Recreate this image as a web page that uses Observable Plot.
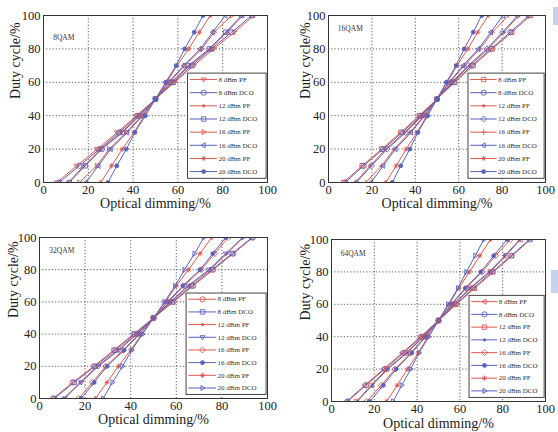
<!DOCTYPE html>
<html><head><meta charset="utf-8">
<script src="https://cdn.jsdelivr.net/npm/d3@7"></script>
<script src="https://cdn.jsdelivr.net/npm/@observablehq/plot@0.6"></script>
<style>
html,body{margin:0;padding:0;background:#fff;}
body{width:558px;height:432px;position:relative;overflow:hidden;font-family:"Liberation Serif",serif;}
.panel{position:absolute;}
.deco{position:absolute;background:#c4d2ee;}
</style></head><body>
<div id="p0" class="panel" style="left:0;top:0"></div>
<div id="p1" class="panel" style="left:279px;top:0"></div>
<div id="p2" class="panel" style="left:0;top:216px"></div>
<div id="p3" class="panel" style="left:279px;top:216px"></div>
<div class="deco" style="left:553px;top:7px;width:5px;height:18px"></div>
<div class="deco" style="left:551px;top:270px;width:7px;height:23px"></div>
<script>
// Duty cycle levels (y values)
const duty = [0, 10, 20, 30, 40, 50, 60, 70, 80, 90, 100];
const seriesNames = ["8 dBm PF", "8 dBm DCO", "12 dBm PF", "12 dBm DCO", "16 dBm PF", "16 dBm DCO", "20 dBm PF", "20 dBm DCO"];
const panelTitles = ["8QAM", "16QAM", "32QAM", "64QAM"];
const xTicks = [0, 20, 40, 60, 80, 100];
const yTicks = [0, 20, 40, 60, 80, 100];

// Optical dimming (%) per series, in seriesNames order, at each duty level
const dim8QAM = [
  [6, 14.8, 24, 32.9, 41.5, 50, 58.5, 67.1, 76, 85.2, 94],
  [7, 16, 25, 33.8, 42, 50, 58, 66.2, 75, 84, 93],
  [11, 18.1, 25.5, 34.8, 42.5, 50, 57.5, 65.2, 74.5, 81.9, 89],
  [11.5, 18.6, 26, 35.3, 43, 50, 57, 64.7, 74, 81.4, 88.5],
  [16, 23.8, 29.3, 37, 43.8, 50, 56.2, 63, 70.7, 76.2, 84],
  [18.9, 24.5, 30, 37.4, 44.2, 50, 55.8, 62.6, 70, 75.5, 81.1],
  [25.5, 30.4, 35.2, 40.4, 45, 50, 55, 59.6, 64.8, 69.6, 74.5],
  [28.8, 32.7, 37, 40.8, 45.5, 50, 54.5, 59.2, 63, 67.3, 71.2]
];
const dim16QAM = [
  [6.9, 15.5, 24.5, 33.3, 41.8, 50, 58.2, 66.7, 75.5, 84.5, 93.1],
  [7.7, 16.2, 25.2, 34, 42.3, 50, 57.7, 66, 74.8, 83.8, 92.3],
  [12.3, 19.2, 26.4, 35, 42.8, 50, 57.2, 65, 73.6, 80.8, 87.7],
  [12.8, 19.8, 27, 35.6, 43.2, 50, 56.8, 64.4, 73, 80.2, 87.2],
  [17.2, 24.4, 30.2, 37.5, 44, 50, 56, 62.5, 69.8, 75.6, 82.8],
  [19.6, 25.2, 30.9, 38, 44.4, 50, 55.6, 62, 69.1, 74.8, 80.4],
  [26.4, 31.2, 35.8, 40.8, 45.3, 50, 54.7, 59.2, 64.2, 68.8, 73.6],
  [29.4, 33.3, 37.5, 41.2, 45.7, 50, 54.3, 58.8, 62.5, 66.7, 70.6]
];
const dim32QAM = [
  [6, 14.5, 23.8, 32.6, 41.2, 50, 58.8, 67.4, 76.2, 85, 93.6],
  [6.5, 15.2, 24.4, 33.2, 41.7, 50, 58.3, 66.8, 75.6, 84.5, 93.2],
  [10.6, 17.8, 25.2, 34.3, 42.3, 50, 57.7, 65.7, 74.8, 82.2, 89.4],
  [11, 18.3, 25.8, 34.8, 42.7, 50, 57.3, 65.2, 74.2, 81.7, 89],
  [17.2, 23.2, 29, 36.7, 43.5, 50, 56.5, 63.3, 71, 76.8, 82.8],
  [18.3, 24, 29.6, 37.1, 43.9, 50, 56.1, 62.9, 70.4, 76, 81.7],
  [24.5, 29.6, 34.6, 40, 44.8, 50, 55.2, 60, 65.4, 70.4, 75.5],
  [27.9, 32, 36.4, 40.5, 45.2, 50, 54.8, 59.5, 63.6, 68, 72.1]
];
const dim64QAM = [
  [7, 15.5, 24.3, 33, 41.6, 50, 58.4, 67, 75.7, 84.5, 93],
  [7.5, 16, 24.9, 33.6, 42, 50, 58, 66.4, 75.1, 84, 92.5],
  [11.7, 18.5, 25.8, 34.9, 42.6, 50, 57.4, 65.1, 74.2, 81.5, 88.3],
  [12, 19, 26.3, 35.3, 43, 50, 57, 64.7, 73.7, 81, 88],
  [16.4, 23.3, 29.6, 37, 43.7, 50, 56.3, 63, 70.4, 76.7, 83.6],
  [17.9, 24.2, 30.2, 37.5, 44.1, 50, 55.9, 62.5, 69.8, 75.8, 82.1],
  [25.7, 30.7, 35.5, 40.5, 45.1, 50, 54.9, 59.5, 64.5, 69.3, 74.3],
  [28.8, 32.8, 37, 40.9, 45.5, 50, 54.5, 59.1, 63, 67.2, 71.2]
];
const panelData = [dim8QAM, dim16QAM, dim32QAM, dim64QAM];

// Marker per series, per panel
const panelMarkers = [
  ["down", "circle", "point", "square", "right", "left", "asterisk", "filled"],
  ["square", "circle", "point", "diamond", "plus", "left", "asterisk", "filled"],
  ["circle", "square", "point", "down", "diamond", "filled", "asterisk", "right"],
  ["left", "circle", "square", "point", "diamond", "filled", "asterisk", "right"]
];

const RED = "#dd5a50", BLUE = "#5a62bd";
const seriesColor = i => (i % 2 === 0 ? RED : BLUE);

const S = f => ({draw(c, size) { const r = Math.sqrt(size / Math.PI); f(c, r); }});
const symbols = {
  circle: S((c, r) => { c.moveTo(r, 0); c.arc(0, 0, r, 0, 2 * Math.PI); }),
  filled: S((c, r) => { const p = r * 0.75; c.moveTo(p, 0); c.arc(0, 0, p, 0, 2 * Math.PI); }),
  point: S((c, r) => { const p = r * 0.45; c.moveTo(p, 0); c.arc(0, 0, p, 0, 2 * Math.PI); }),
  square: S((c, r) => { const s = r * 0.85; c.rect(-s, -s, 2 * s, 2 * s); }),
  diamond: S((c, r) => { const s = r * 1.15; c.moveTo(0, -s); c.lineTo(s, 0); c.lineTo(0, s); c.lineTo(-s, 0); c.closePath(); }),
  down: S((c, r) => { c.moveTo(-r, -r * 0.6); c.lineTo(r, -r * 0.6); c.lineTo(0, r); c.closePath(); }),
  left: S((c, r) => { c.moveTo(r * 0.6, -r); c.lineTo(r * 0.6, r); c.lineTo(-r, 0); c.closePath(); }),
  right: S((c, r) => { c.moveTo(-r * 0.6, -r); c.lineTo(-r * 0.6, r); c.lineTo(r, 0); c.closePath(); }),
  plus: S((c, r) => { c.moveTo(-r, 0); c.lineTo(r, 0); c.moveTo(0, -r); c.lineTo(0, r); }),
  asterisk: S((c, r) => {
    c.moveTo(-r, 0); c.lineTo(r, 0); c.moveTo(0, -r); c.lineTo(0, r);
    const d = r * 0.7; c.moveTo(-d, -d); c.lineTo(d, d); c.moveTo(-d, d); c.lineTo(d, -d);
  })
};
const filledSet = new Set(["point", "filled"]);

// Panel frame geometry (layout)
const layouts = [
  {mt: 15, mb: 34, ml: 43, mr: 12, ylx: -28, xly: 21, titleY: 87},
  {mt: 15, mb: 34, ml: 49, mr: 13, ylx: -23, xly: 21, titleY: 92},
  {mt: 21, mb: 34, ml: 39, mr: 12, ylx: -26, xly: 21, titleY: 92},
  {mt: 23, mb: 31, ml: 52, mr: 13, ylx: -26, xly: 22, titleY: 91}
];
// Legend box (in data units)
const LG = {x0: 64.5, x1: 99.6, y0: 2.2, y1: 65.2};

panelData.forEach((data, p) => {
  const L = layouts[p];
  const marks = [];
  marks.push(Plot.ruleX(xTicks.slice(1, -1), {stroke: "#333", strokeWidth: 0.8, strokeDasharray: "1.2,2"}));
  marks.push(Plot.ruleY(yTicks.slice(1, -1), {stroke: "#333", strokeWidth: 0.8, strokeDasharray: "1.2,2"}));
  data.forEach((vals, i) => {
    const rows = duty.map((d, k) => ({duty: d, dim: vals[k]}));
    const col = seriesColor(i);
    const m = panelMarkers[p][i];
    marks.push(Plot.line(rows, {x: "dim", y: "duty", stroke: col, strokeWidth: 1, clip: true}));
    marks.push(Plot.dot(rows, {x: "dim", y: "duty", symbol: symbols[m], r: 2.6, stroke: col,
      fill: filledSet.has(m) ? col : "none", strokeWidth: 0.9, clip: true}));
  });
  // Legend
  const rowH = (LG.y1 - LG.y0) / seriesNames.length;
  const rowY = i => LG.y1 - (i + 0.45) * rowH;
  marks.push(Plot.rect([0], {x1: LG.x0, x2: LG.x1, y1: LG.y0, y2: LG.y1, fill: "white", stroke: "#444", strokeWidth: 1}));
  marks.push(Plot.link(seriesNames, {x1: LG.x0 + 0.8, x2: LG.x0 + 13, y1: (d, i) => rowY(i), y2: (d, i) => rowY(i),
    stroke: (d, i) => seriesColor(i), strokeWidth: 1}));
  seriesNames.forEach((name, i) => {
    const m = panelMarkers[p][i];
    const col = seriesColor(i);
    marks.push(Plot.dot([name], {x: LG.x0 + 7, y: rowY(i), symbol: symbols[m], r: 2.6, stroke: col,
      fill: filledSet.has(m) ? col : "none", strokeWidth: 0.9}));
  });
  marks.push(Plot.text(seriesNames, {x: LG.x0 + 13.6, y: (d, i) => rowY(i), text: d => d, textAnchor: "start",
    fontSize: 7, fill: "#333"}));
  // Panel title
  marks.push(Plot.text([panelTitles[p]], {x: 4.3, y: L.titleY, text: d => d, textAnchor: "start", fontSize: 7.5, fill: "#333"}));
  // Axis labels
  marks.push(Plot.text(["Optical dimming/%"], {frameAnchor: "bottom", lineAnchor: "middle", dy: L.xly, text: d => d, fontSize: 14, fill: "#222"}));
  marks.push(Plot.text(["Duty cycle/%"], {frameAnchor: "left", lineAnchor: "middle", dx: L.ylx, rotate: -90, text: d => d, fontSize: 14, fill: "#222"}));
  marks.push(Plot.frame({stroke: "#333", strokeWidth: 1}));

  const chart = Plot.plot({
    width: 279, height: 216,
    marginTop: L.mt, marginBottom: L.mb, marginLeft: L.ml, marginRight: L.mr,
    style: {fontFamily: "'Liberation Serif', serif", fontSize: "12.5px", color: "#222", background: "white", overflow: "visible"},
    x: {domain: [0, 100], ticks: xTicks, tickSize: 0, tickPadding: 3, label: null},
    y: {domain: [0, 100], ticks: yTicks, tickSize: 0, tickPadding: 3, label: null},
    marks
  });
  document.getElementById("p" + p).appendChild(chart);
});
</script>
</body></html>
